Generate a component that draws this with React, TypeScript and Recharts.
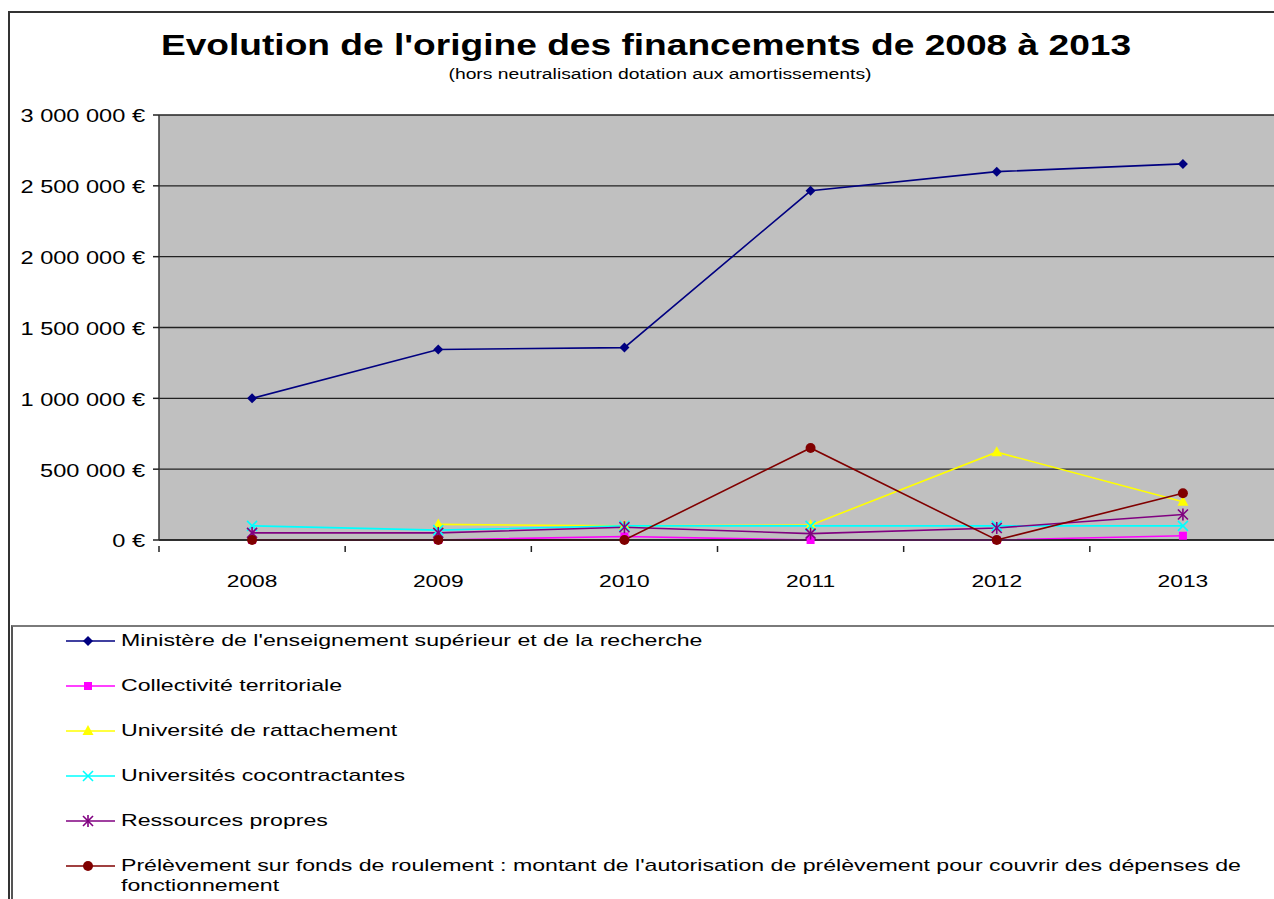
import React from 'react';
import { LineChart, Line, XAxis, YAxis, CartesianGrid } from 'recharts';

const years = ['2008', '2009', '2010', '2011', '2012', '2013'];
const ministere = [1000000, 1345000, 1358000, 2465000, 2600000, 2655000];
const collectivite = [0, 0, 25000, 0, 0, 30000];
const univRattachement = [null, 110000, 100000, 105000, 620000, 270000];
const univCocontractantes = [100000, 70000, 100000, 100000, 100000, 100000];
const ressourcesPropres = [50000, 50000, 90000, 45000, 85000, 180000];
const prelevement = [0, 0, 0, 650000, 0, 330000];
const yTicks = [0, 500000, 1000000, 1500000, 2000000, 2500000, 3000000];

const titleText = "Evolution de l'origine des financements de 2008 à 2013";
const subtitleText = '(hors neutralisation dotation aux amortissements)';

type Shape = 'diamond' | 'square' | 'triangle' | 'x' | 'star' | 'circle';
const series: { key: string; name: string; color: string; shape: Shape; values: (number | null)[] }[] = [
  { key: 'ministere', name: "Ministère de l'enseignement supérieur et de la recherche", color: '#000080', shape: 'diamond', values: ministere },
  { key: 'collectivite', name: 'Collectivité territoriale', color: '#FF00FF', shape: 'square', values: collectivite },
  { key: 'rattachement', name: 'Université de rattachement', color: '#FFFF00', shape: 'triangle', values: univRattachement },
  { key: 'cocontractantes', name: 'Universités cocontractantes', color: '#00FFFF', shape: 'x', values: univCocontractantes },
  { key: 'propres', name: 'Ressources propres', color: '#800080', shape: 'star', values: ressourcesPropres },
  { key: 'prelevement', name: "Prélèvement sur fonds de roulement : montant de l'autorisation de prélèvement pour couvrir des dépenses de fonctionnement", color: '#800000', shape: 'circle', values: prelevement },
];

const data = years.map((y, i) => {
  const row: Record<string, any> = { year: y };
  series.forEach((s) => (row[s.key] = s.values[i]));
  return row;
});

const FONT = '"Liberation Sans", Arial, sans-serif';
const SX_LEGEND = 1.36;
const SX_X = 1.34;
const SX_Y = 1.31;
const CHART_W = 1276;
const CHART_H = 620;
const Y_AXIS_W = 159;
const MARGIN_TOP = 115;
const X_AXIS_H = 80;
const BAND = (CHART_W - Y_AXIS_W) / years.length;

const fmt = (v: number) => String(v).replace(/\B(?=(\d{3})+(?!\d))/g, ' ') + ' €';

function Marker({ shape, color, cx, cy }: { shape: Shape; color: string; cx: number; cy: number }) {
  switch (shape) {
    case 'diamond':
      return <polygon points={`${cx},${cy - 5} ${cx + 5},${cy} ${cx},${cy + 5} ${cx - 5},${cy}`} fill={color} />;
    case 'square':
      return <rect x={cx - 4} y={cy - 4} width={8} height={8} fill={color} />;
    case 'triangle':
      return <polygon points={`${cx},${cy - 6} ${cx + 5.5},${cy + 4} ${cx - 5.5},${cy + 4}`} fill={color} />;
    case 'x':
      return (
        <g stroke={color} strokeWidth={1.6}>
          <line x1={cx - 5} y1={cy - 5} x2={cx + 5} y2={cy + 5} />
          <line x1={cx - 5} y1={cy + 5} x2={cx + 5} y2={cy - 5} />
        </g>
      );
    case 'star':
      return (
        <g stroke={color} strokeWidth={1.6}>
          <line x1={cx - 5} y1={cy - 5} x2={cx + 5} y2={cy + 5} />
          <line x1={cx - 5} y1={cy + 5} x2={cx + 5} y2={cy - 5} />
          <line x1={cx} y1={cy - 6} x2={cx} y2={cy + 6} />
        </g>
      );
    case 'circle':
    default:
      return <circle cx={cx} cy={cy} r={5} fill={color} />;
  }
}

const makeDot = (shape: Shape, color: string) => (props: any) => {
  const { cx, cy, value, index } = props;
  if (value === null || value === undefined || cx == null || cy == null) return <g key={`n${index}`} />;
  return (
    <g key={`d${index}`}>
      <Marker shape={shape} color={color} cx={cx} cy={cy} />
    </g>
  );
};

const YTick = (props: any) => {
  const { x, y, payload } = props;
  return (
    <text
      transform={`translate(${x},${y + 1}) scale(${SX_Y},1)`}
      textAnchor="end"
      dominantBaseline="central"
      fontSize={18}
      fontFamily={FONT}
      fill="#000"
    >
      {fmt(payload.value)}
    </text>
  );
};

const XTick = (props: any) => {
  const { x, y, payload, index } = props;
  const axisY = y - 2;
  return (
    <g>
      <line x1={x - BAND / 2} y1={axisY} x2={x - BAND / 2} y2={axisY + 6} stroke="#222" strokeWidth={1.5} />
      {index === years.length - 1 && (
        <line x1={x + BAND / 2} y1={axisY} x2={x + BAND / 2} y2={axisY + 6} stroke="#222" strokeWidth={1.5} />
      )}
      <text
        transform={`translate(${x},${axisY + 35}) scale(${SX_X},1)`}
        textAnchor="middle"
        dominantBaseline="central"
        fontSize={17}
        fontFamily={FONT}
        fill="#000"
      >
        {payload.value}
      </text>
    </g>
  );
};

const legendRowY = [641, 686, 731, 776, 821, 866];

export default function App() {
  return (
    <div
      style={{
        position: 'fixed',
        left: 0,
        top: 0,
        width: 1274,
        height: 899,
        overflow: 'hidden',
        background: '#fff',
        fontFamily: FONT,
      }}
    >
      {/* outer chart border */}
      <div style={{ position: 'absolute', left: 8, top: 11, width: 1400, height: 1000, border: '2px solid #333' }} />
      {/* legend box */}
      <div style={{ position: 'absolute', left: 11, top: 625, width: 1400, height: 400, borderTop: '2px solid #7a7a7a', borderLeft: '2px solid #555' }} />

      <div
        style={{
          position: 'absolute',
          left: 646,
          top: 27,
          fontSize: 29,
          fontWeight: 'bold',
          lineHeight: '36px',
          whiteSpace: 'nowrap',
          transform: 'translateX(-50%) scaleX(1.28)',
          color: '#000',
        }}
      >
        {titleText}
      </div>
      <div
        style={{
          position: 'absolute',
          left: 660,
          top: 66,
          fontSize: 14,
          lineHeight: '16px',
          whiteSpace: 'nowrap',
          transform: 'translateX(-50%) scaleX(1.38)',
          color: '#000',
        }}
      >
        {subtitleText}
      </div>

      <div style={{ position: 'absolute', left: 0, top: 0 }}>
        <LineChart
          width={CHART_W}
          height={CHART_H}
          data={data}
          margin={{ top: MARGIN_TOP, right: 0, left: 0, bottom: 0 }}
        >
          <CartesianGrid fill="#C0C0C0" vertical={false} stroke="#222" strokeWidth={1.3} fillOpacity={1} />
          <XAxis
            dataKey="year"
            height={X_AXIS_H}
            padding={{ left: BAND / 2, right: BAND / 2 }}
            tickLine={false}
            axisLine={{ stroke: '#222', strokeWidth: 1.5 }}
            tick={<XTick />}
            interval={0}
          />
          <YAxis
            width={Y_AXIS_W}
            domain={[0, 3000000]}
            ticks={yTicks}
            interval={0}
            tickSize={6}
            tickMargin={8}
            tickLine={{ stroke: '#222', strokeWidth: 1.5 }}
            axisLine={{ stroke: '#333', strokeWidth: 1.5 }}
            tick={<YTick />}
          />
          {series.map((s) => (
            <Line
              key={s.key}
              dataKey={s.key}
              name={s.name}
              stroke={s.color}
              strokeWidth={1.6}
              type="linear"
              isAnimationActive={false}
              dot={makeDot(s.shape, s.color)}
              activeDot={false}
              connectNulls={false}
            />
          ))}
        </LineChart>
      </div>

      {series.map((s, i) => (
        <div key={s.key}>
          <svg style={{ position: 'absolute', left: 60, top: legendRowY[i] - 10, overflow: 'visible' }} width={60} height={20}>
            <line x1={6} y1={10} x2={55} y2={10} stroke={s.color} strokeWidth={1.6} />
            <Marker shape={s.shape} color={s.color} cx={28} cy={10} />
          </svg>
          <div
            style={{
              position: 'absolute',
              left: 121,
              top: legendRowY[i] - 10,
              width: 1135 / SX_LEGEND,
              fontSize: 17,
              lineHeight: '20px',
              transform: `scaleX(${SX_LEGEND})`,
              transformOrigin: 'left top',
              color: '#000',
            }}
          >
            {s.name}
          </div>
        </div>
      ))}
    </div>
  );
}
